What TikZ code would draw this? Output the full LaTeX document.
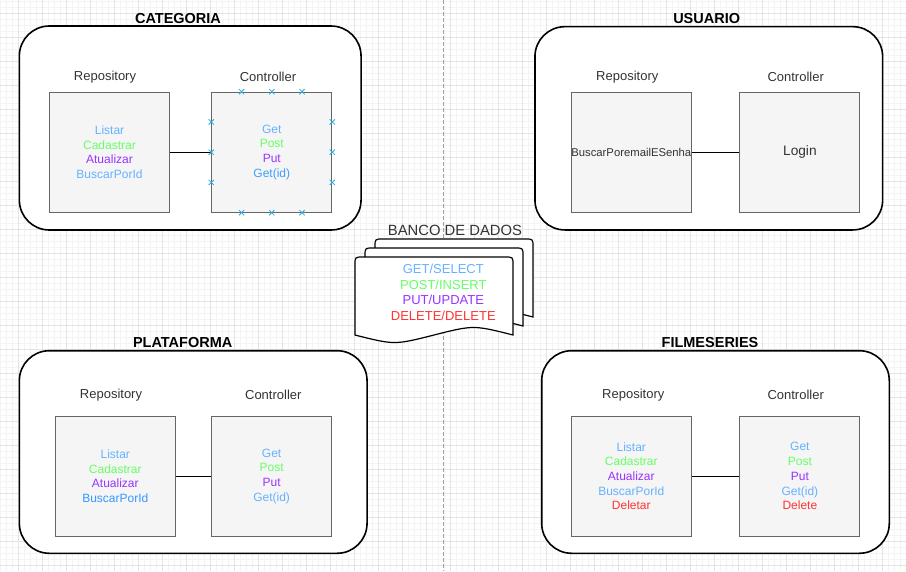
\documentclass[tikz,border=0pt]{standalone}
\usepackage{fontspec}
\setmainfont{Liberation Sans}
\usetikzlibrary{positioning}
\usetikzlibrary{calc}
\usetikzlibrary{shapes.misc}

\definecolor{lblue}{HTML}{66B2FF}
\definecolor{dblue}{HTML}{3399FF}
\definecolor{lgreen}{HTML}{66FF66}
\definecolor{lpurple}{HTML}{9933FF}
\definecolor{lred}{HTML}{FF3333}
\definecolor{boxfill}{HTML}{F5F5F5}
\definecolor{boxline}{HTML}{666666}
\definecolor{txt}{HTML}{333333}
\definecolor{selblue}{HTML}{29ABE2}
\definecolor{gridminor}{HTML}{F4F4F4}
\definecolor{gridmajor}{HTML}{E4E4E4}

% one sheet of the database stack
\newcommand{\docsheet}[2]{%
  \draw[sheet] (#1,#2+78) -- (#1,#2+8) .. controls (#1,#2) .. (#1+8,#2)
    -- (#1+150,#2) .. controls (#1+158,#2) .. (#1+158,#2+8) -- (#1+158,#2+78)
    .. controls (#1+118.5,#2+68) .. (#1+79,#2+78)
    .. controls (#1+39.5,#2+88) .. (#1,#2+78) -- cycle;}

\begin{document}
\begin{tikzpicture}[x=1pt, y=-1pt,
    module/.style = {draw=black, line width=1.6pt, fill=white, rounded corners=30pt, inner sep=0pt},
    layer/.style = {draw=boxline, line width=1pt, fill=boxfill, minimum size=120pt, inner sep=0pt,
                    align=center, font=\fontsize{12}{14.7}\selectfont},
    title/.style = {font=\fontsize{14.5}{17}\selectfont\bfseries},
    caption/.style = {font=\fontsize{13}{15}\selectfont, text=txt},
    link/.style = {draw=black, line width=1pt},
    sel/.style = {cross out, draw=selblue, line width=0.8pt, minimum size=4.5pt, inner sep=0pt},
    sheet/.style = {draw=black, line width=1.2pt, fill=white}]

    \useasboundingbox (0,0) rectangle (906,571);
    \fill[white] (0,0) rectangle (906,571);

    % background grid
    \foreach \gx in {0,6,...,906} \draw[gridminor, line width=0.5pt] (\gx,0) -- (\gx,571);
    \foreach \gy in {1.3,7.3,...,571} \draw[gridminor, line width=0.5pt] (0,\gy) -- (906,\gy);
    \foreach \gx in {18,42,...,906} \draw[gridmajor, line width=0.7pt] (\gx,0) -- (\gx,571);
    \foreach \gy in {13.3,37.3,...,571} \draw[gridmajor, line width=0.7pt] (0,\gy) -- (906,\gy);

    % divider
    \coordinate (divtop) at (443.3,0);
    \coordinate (divbot) at (443.3,571);
    \draw[boxline!60, line width=0.8pt, dash pattern=on 4pt off 2pt] (divtop) -- (divbot);

    % CATEGORIA
    \node[module, minimum width=341.7pt, minimum height=204pt] (cat) at (190.2,128) {};
    \node[title] (cattitle) at (178,19) {CATEGORIA};
    \node[layer] (catrepo) at (109.5,152.2) {\textcolor{lblue}{Listar}\\\textcolor{lgreen}{Cadastrar}\\
        \textcolor{lpurple}{Atualizar}\\\textcolor{lblue}{BuscarPorId}};
    \node[layer, right=41.3pt of catrepo] (catctrl) {\textcolor{lblue}{Get}\\\textcolor{lgreen}{Post}\\
        \textcolor{lpurple}{Put}\\\textcolor{dblue!80!lblue}{Get(id)}};
    \node[caption] (catrepolbl) at (105,77) {Repository};
    \node[caption] (catctrllbl) at (268,77) {Controller};
    \draw[link] (catrepo) -- (catctrl);

    % selection handles on the controller
    \foreach \f/\k in {0.25/1,0.5/2,0.75/3} {
        \node[sel] (selt\k) at ($(catctrl.north west)!\f!(catctrl.north east)$) {};
        \node[sel] (selb\k) at ($(catctrl.south west)!\f!(catctrl.south east)$) {};
        \node[sel] (sell\k) at ($(catctrl.north west)!\f!(catctrl.south west)$) {};
        \node[sel] (selr\k) at ($(catctrl.north east)!\f!(catctrl.south east)$) {};
    }

    % USUARIO
    \node[module, minimum width=347.7pt, minimum height=203.3pt] (usr) at (708.8,128.3) {};
    \node[title] (usrtitle) at (706.7,18.3) {USUARIO};
    \node[layer, font=\fontsize{11.3}{13}\selectfont, text=txt] (usrrepo) at (631.3,152.2) {BuscarPoremailESenha};
    \node[layer, right=47.6pt of usrrepo, font=\fontsize{13.7}{16}\selectfont, text=txt] (usrctrl) {Login};
    \node[caption] (usrrepolbl) at (627.3,77) {Repository};
    \node[caption] (usrctrllbl) at (795.7,77) {Controller};
    \draw[link] (usrrepo) -- (usrctrl);

    % PLATAFORMA
    \node[module, minimum width=347.7pt, minimum height=202.6pt] (plat) at (193.2,452) {};
    \node[title] (plattitle) at (182.7,342.3) {PLATAFORMA};
    \node[layer] (platrepo) at (115.3,476.2) {\textcolor{lblue}{Listar}\\\textcolor{lgreen}{Cadastrar}\\
        \textcolor{lpurple}{Atualizar}\\\textcolor{dblue}{BuscarPorId}};
    \node[layer, right=35.3pt of platrepo] (platctrl) {\textcolor{lblue}{Get}\\\textcolor{lgreen}{Post}\\
        \textcolor{lpurple}{Put}\\\textcolor{lblue}{Get(id)}};
    \node[caption] (platrepolbl) at (111,395.3) {Repository};
    \node[caption] (platctrllbl) at (273.3,395.3) {Controller};
    \draw[link] (platrepo) -- (platctrl);

    % FILMESERIES
    \node[module, minimum width=347.6pt, minimum height=202.6pt] (film) at (715.5,452) {};
    \node[title] (filmtitle) at (710,342.3) {FILMESERIES};
    \node[layer] (filmrepo) at (631.3,476.2) {\textcolor{lblue}{Listar}\\\textcolor{lgreen}{Cadastrar}\\
        \textcolor{lpurple}{Atualizar}\\\textcolor{lblue}{BuscarPorId}\\\textcolor{lred}{Deletar}};
    \node[layer, right=47.6pt of filmrepo] (filmctrl) {\textcolor{lblue}{Get}\\\textcolor{lgreen}{Post}\\
        \textcolor{lpurple}{Put}\\\textcolor{lblue}{Get(id)}\\\textcolor{lred}{Delete}};
    \node[caption] (filmrepolbl) at (633.3,395.3) {Repository};
    \node[caption] (filmctrllbl) at (795.7,395.3) {Controller};
    \draw[link] (filmrepo) -- (filmctrl);

    % BANCO DE DADOS
    \docsheet{375}{239}
    \docsheet{365}{248}
    \docsheet{355}{257}
    \node[caption, font=\fontsize{14.8}{17}\selectfont] (dbtitle) at (455,230.7) {BANCO DE DADOS};
    \node[align=center, font=\fontsize{13}{15.5}\selectfont] (dbops) at (443.3,292.3)
        {\textcolor{lblue}{GET/SELECT}\\\textcolor{lgreen}{POST/INSERT}\\
         \textcolor{lpurple}{PUT/UPDATE}\\\textcolor{lred}{DELETE/DELETE}};
\end{tikzpicture}
\end{document}
